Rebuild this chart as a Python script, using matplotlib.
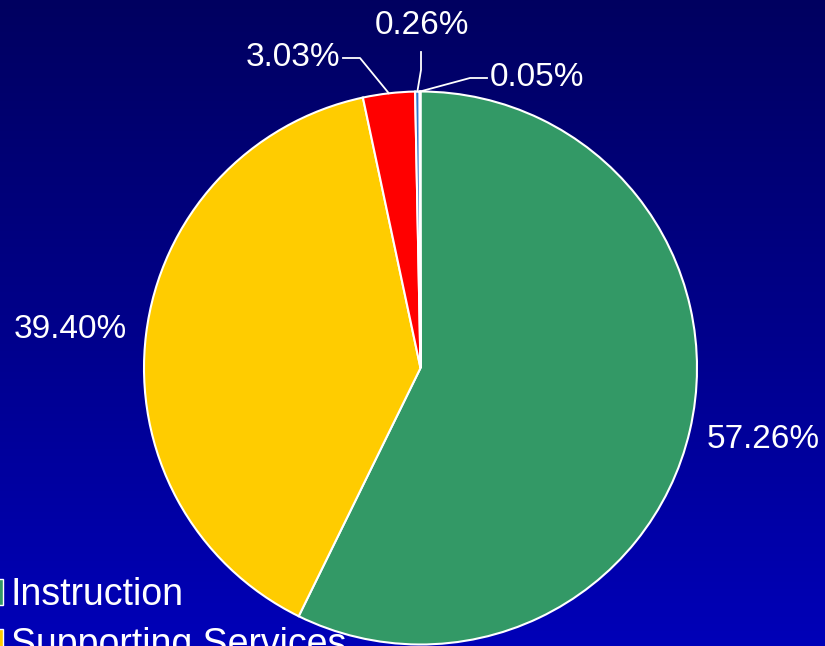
import numpy as np
import matplotlib
matplotlib.use("Agg")
import matplotlib.pyplot as plt
from matplotlib.colors import LinearSegmentedColormap
from matplotlib.patches import Patch

categories = ["Instruction", "Supporting Services", "Other A", "Other B", "Other C"]
shares = [57.26, 39.40, 3.03, 0.26, 0.05]
pct_labels = ["57.26%", "39.40%", "3.03%", "0.26%", "0.05%"]
colors = ["#339966", "#ffcc00", "#ff0000", "#3377cc", "#99ccff"]

W, H = 825, 646
fig = plt.figure(figsize=(W / 100, H / 100), dpi=100)
ax = fig.add_axes([0, 0, 1, 1])
ax.set_xlim(0, W)
ax.set_ylim(0, H)
ax.set_aspect("equal")
ax.axis("off")

# background gradient
cmap = LinearSegmentedColormap.from_list("bg", ["#0000b8", "#00008a", "#000060"])
grad = np.linspace(0, 1, 256).reshape(-1, 1)
ax.imshow(grad, extent=[0, W, 0, H], origin="lower", cmap=cmap, aspect="auto", zorder=0)

cx, cy, R = 420.5, H - 368, 276.5
wedges, _ = ax.pie(shares, colors=colors, startangle=90, counterclock=False,
                   center=(cx, cy), radius=R, frame=True,
                   wedgeprops=dict(edgecolor="white", linewidth=1.5))
ax.set_xlim(0, W)
ax.set_ylim(0, H)
ax.axis("off")
for w in wedges:
    w.set_zorder(2)

font = "Liberation Sans"
fs = 24

def mid_angle(w):
    return np.deg2rad((w.theta1 + w.theta2) / 2)

def edge_point(w):
    a = mid_angle(w)
    return cx + R * np.cos(a), cy + R * np.sin(a)

# large labels
ax.text(763, H - 440, pct_labels[0], color="white", fontsize=fs, family=font,
        ha="center", va="center", zorder=3)
ax.text(70, H - 330, pct_labels[1], color="white", fontsize=fs, family=font,
        ha="center", va="center", zorder=3)

# small labels with leader lines
lw = 1.3
# 3.03%
x0, y0 = edge_point(wedges[2])
ax.plot([x0, 360, 343], [y0, H - 58, H - 58], color="white", lw=lw, zorder=3)
ax.text(340, H - 58, pct_labels[2], color="white", fontsize=fs, family=font,
        ha="right", va="center", zorder=3)
# 0.26%
x0, y0 = edge_point(wedges[3])
ax.plot([x0, 421, 421], [y0, H - 70, H - 52], color="white", lw=lw, zorder=3)
ax.text(422, H - 25, pct_labels[3], color="white", fontsize=fs, family=font,
        ha="center", va="center", zorder=3)
# 0.05%
x0, y0 = edge_point(wedges[4])
ax.plot([x0, 470, 487], [y0, H - 78, H - 78], color="white", lw=lw, zorder=3)
ax.text(490, H - 78, pct_labels[4], color="white", fontsize=fs, family=font,
        ha="left", va="center", zorder=3)

handles = [Patch(facecolor=colors[i], edgecolor="white") for i in range(2)]
leg = fig.legend(handles, categories[:2], loc="upper left",
                 bbox_to_anchor=(-23 / W, 1 - 577 / H), frameon=False,
                 borderpad=0, borderaxespad=0, handlelength=0.7, handleheight=0.7,
                 handletextpad=0.2, labelspacing=0.38,
                 prop=dict(family=font, size=27))
for t in leg.get_texts():
    t.set_color("white")

fig.savefig("out.png", dpi=100)
